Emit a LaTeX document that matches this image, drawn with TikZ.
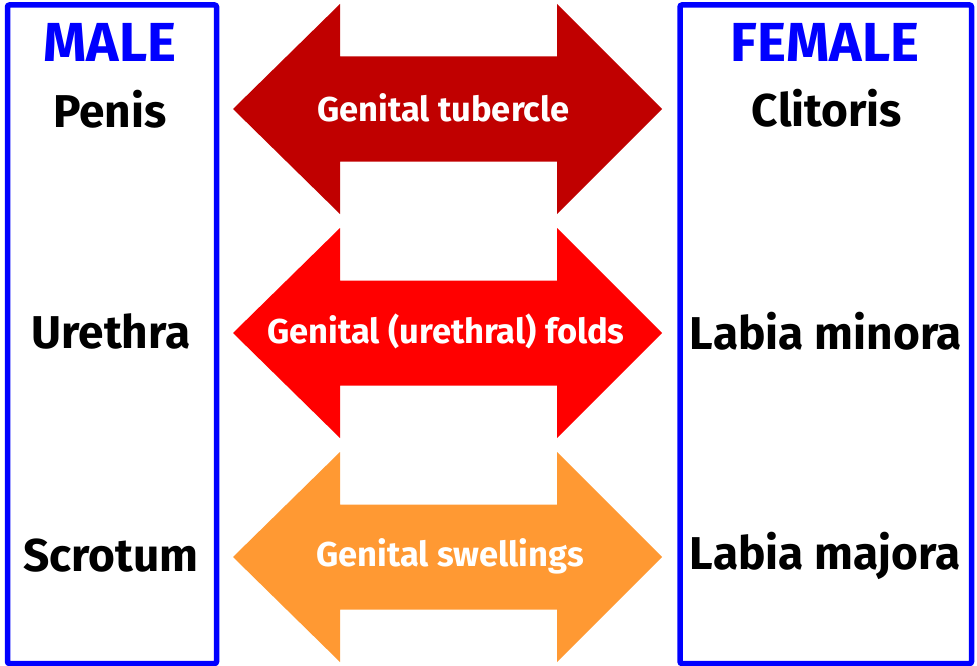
\documentclass[tikz,border=0pt]{standalone}
\usepackage{fontspec}
\setmainfont{Fira Sans}
\usepackage{tikz}
\usetikzlibrary{positioning}
\definecolor{cside}{HTML}{0000FF}
\definecolor{ctub}{HTML}{C00000}
\definecolor{cfold}{HTML}{FF0000}
\definecolor{cswell}{HTML}{FF9933}
\tikzset{
  sidebox/.style={draw=cside, line width=5.5pt, rounded corners=2pt},
  sexlbl/.style={text=cside, font=\fontsize{55}{60}\selectfont\bfseries, inner sep=0pt},
  organlbl/.style={text=black, font=\fontsize{46}{50}\selectfont\bfseries, inner sep=0pt},
  arrlbl/.style={text=white, font=\fontsize{34.5}{40}\selectfont\bfseries, inner sep=0pt},
}

\begin{document}
\begin{tikzpicture}[x=1pt, y=-1pt]
  \useasboundingbox (0,0) rectangle (977,666);
  % side boxes
  \draw[sidebox] (7.5,5) rectangle (216.5,663.5);
  \draw[sidebox] (680,5) rectangle (971.5,663.5);
  % double arrows
  \fill[ctub] (233,109) -- (340,4) -- (340,56.5) -- (557,56.5) -- (557,4) -- (662,109)
    -- (557,214) -- (557,161.5) -- (340,161.5) -- (340,214) -- cycle;
  \fill[cfold] (233,333) -- (340,228) -- (340,280.5) -- (557,280.5) -- (557,228) -- (662,333)
    -- (557,438) -- (557,385.5) -- (340,385.5) -- (340,438) -- cycle;
  \fill[cswell] (233,557) -- (340,452) -- (340,504.5) -- (557,504.5) -- (557,452) -- (662,557)
    -- (557,662) -- (557,609.5) -- (340,609.5) -- (340,662) -- cycle;
  \node[arrlbl] (tub) at (443.5,108) {Genital tubercle};
  \node[arrlbl] (fold) at (446,331) {Genital (urethral) folds};
  \node[arrlbl] (swell) at (450,556) {Genital swellings};
  % male side
  \node[sexlbl] (male) at (110,42) {MALE};
  \node[organlbl] (penis) at (110,109) {Penis};
  \node[organlbl] (urethra) at (111,331) {Urethra};
  \node[organlbl] (scrotum) at (111,556) {Scrotum};
  % female side
  \node[sexlbl] (female) at (825,42) {FEMALE};
  \node[organlbl] (clit) at (827,108) {Clitoris};
  \node[organlbl] (minora) at (826,331) {Labia minora};
  \node[organlbl] (majora) at (825,556) {Labia majora};
\end{tikzpicture}
\end{document}
